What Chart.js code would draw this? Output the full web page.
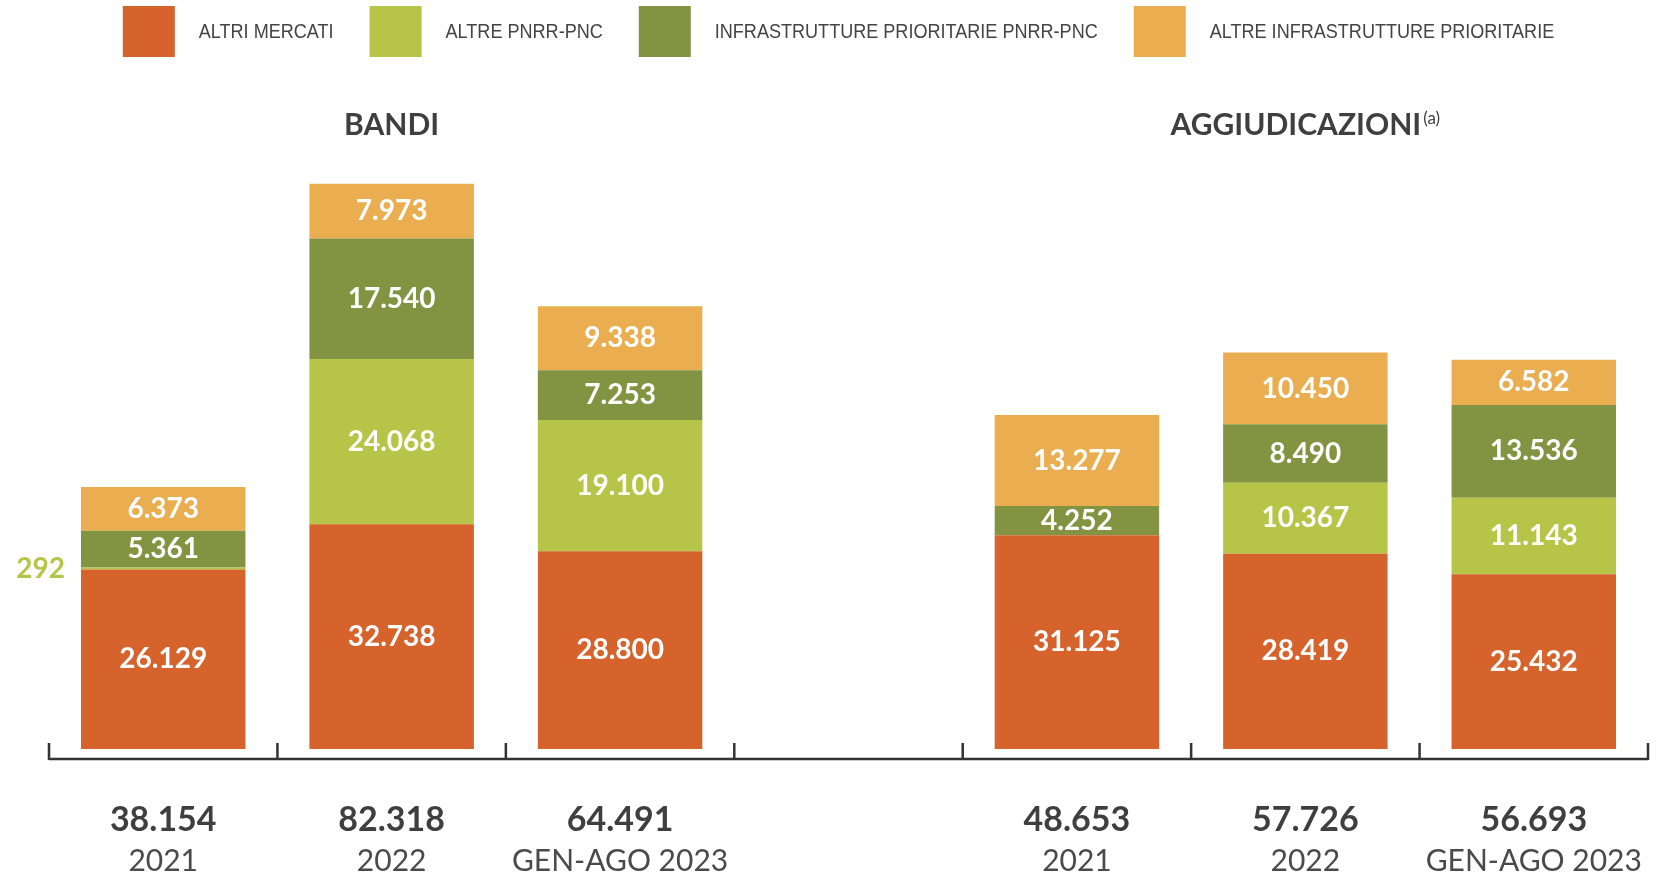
<!DOCTYPE html>
<html>
<head>
<meta charset="utf-8">
<script src="https://cdn.jsdelivr.net/npm/chart.js@4.4.1/dist/chart.umd.min.js"></script>
<style>
  html, body { margin: 0; padding: 0; background: #fff; }
  #wrap { width: 1659px; height: 877px; }
</style>
</head>
<body>
<div id="wrap"><canvas id="grafico"></canvas></div>
<script>
// dati (milioni di euro)
const categorie = ['2021', '2022', 'GEN-AGO 2023', '', '2021', '2022', 'GEN-AGO 2023'];
const totali = ['38.154', '82.318', '64.491', '', '48.653', '57.726', '56.693'];
const altriMercati = [26129, 32738, 28800, null, 31125, 28419, 25432];
const altrePnrr = [292, 24068, 19100, null, null, 10367, 11143];
const infraPnrr = [5361, 17540, 7253, null, 4252, 8490, 13536];
const altreInfra = [6373, 7973, 9338, null, 13277, 10450, 6582];
const titoliSezione = ['BANDI', 'AGGIUDICAZIONI'];
const noteSezione = ['', '(a)'];
const posSezione = [1, 5];

const fmt = v => String(v).replace(/\B(?=(\d{3})+(?!\d))/g, '.');

const extras = {
    id: 'extras',
    afterDatasetsDraw(chart) {
        const ctx = chart.ctx;
        const area = chart.chartArea;
        const x = chart.scales.x;
        const y0 = chart.scales.y.getPixelForValue(0);
        ctx.save();

        // etichette dei valori
        chart.data.datasets.forEach((ds, i) => {
            chart.getDatasetMeta(i).data.forEach((bar, j) => {
                const v = ds.data[j];
                if (!v) return;
                const h = bar.base - bar.y;
                ctx.font = 'bold 28px Lato';
                ctx.textBaseline = 'middle';
                if (h < 20) {
                    ctx.fillStyle = ds.backgroundColor;
                    ctx.textAlign = 'right';
                    ctx.fillText(fmt(v), bar.x - bar.width / 2 - 16, (bar.y + bar.base) / 2);
                } else {
                    ctx.fillStyle = '#fff';
                    ctx.textAlign = 'center';
                    ctx.fillText(fmt(v), bar.x, (bar.y + bar.base) / 2);
                }
            });
        });

        // asse con tacche
        const step = x.getPixelForValue(1) - x.getPixelForValue(0);
        const yAsse = y0 + 10;
        ctx.strokeStyle = '#333';
        ctx.lineWidth = 2.5;
        ctx.beginPath();
        ctx.moveTo(area.left, yAsse);
        ctx.lineTo(area.right, yAsse);
        for (let i = 0; i <= categorie.length; i++) {
            const px = x.getPixelForValue(0) - step / 2 + i * step;
            ctx.moveTo(px, yAsse + 1);
            ctx.lineTo(px, yAsse - 16);
        }
        ctx.stroke();

        // totali
        ctx.font = 'bold 34px Lato';
        ctx.fillStyle = '#3f3f3f';
        ctx.textAlign = 'center';
        ctx.textBaseline = 'middle';
        totali.forEach((t, i) => {
            if (t) ctx.fillText(t, x.getPixelForValue(i), y0 + 71);
        });

        // titoli sezioni
        titoliSezione.forEach((t, i) => {
            ctx.font = 'bold 30px Lato';
            const w1 = ctx.measureText(t).width;
            ctx.font = '17px Lato';
            const w2 = noteSezione[i] ? ctx.measureText(noteSezione[i]).width + 2 : 0;
            const cx = x.getPixelForValue(posSezione[i]);
            const sx = cx - (w1 + w2) / 2;
            ctx.fillStyle = '#3f3f3f';
            ctx.textAlign = 'left';
            ctx.textBaseline = 'middle';
            ctx.font = 'bold 30px Lato';
            ctx.fillText(t, sx, 125);
            if (noteSezione[i]) {
                ctx.font = '17px Lato';
                ctx.fillText(noteSezione[i], sx + w1 + 2, 119);
            }
        });

        // legenda (testo stretto: Liberation Sans compresso)
        const sq = 0.86;
        ctx.font = '21px "Liberation Sans"';
        const items = chart.data.datasets.map(ds => ({
            t: ds.label, c: ds.backgroundColor, w: ctx.measureText(ds.label).width * sq
        }));
        const box = 52, gapTxt = 24, gapItem = 36;
        const tot = items.reduce((s, it) => s + box + gapTxt + it.w, 0) + gapItem * (items.length - 1);
        let lx = (chart.width - tot) / 2 + 9;
        items.forEach(it => {
            ctx.fillStyle = it.c;
            ctx.fillRect(lx, 6, box, 51);
            ctx.save();
            ctx.translate(lx + box + gapTxt, 32);
            ctx.scale(sq, 1);
            ctx.fillStyle = '#444';
            ctx.textAlign = 'left';
            ctx.textBaseline = 'middle';
            ctx.fillText(it.t, 0, 0);
            ctx.restore();
            lx += box + gapTxt + it.w + gapItem;
        });

        ctx.restore();
    }
};

Chart.defaults.font.family = 'Lato';

new Chart(document.getElementById('grafico'), {
    type: 'bar',
    data: {
        labels: categorie,
        datasets: [
            { label: 'ALTRI MERCATI', data: altriMercati, backgroundColor: '#d6622c' },
            { label: 'ALTRE PNRR-PNC', data: altrePnrr, backgroundColor: '#b6c547' },
            { label: 'INFRASTRUTTURE PRIORITARIE PNRR-PNC', data: infraPnrr, backgroundColor: '#829342' },
            { label: 'ALTRE INFRASTRUTTURE PRIORITARIE', data: altreInfra, backgroundColor: '#eaae50' }
        ]
    },
    options: {
        responsive: true,
        maintainAspectRatio: false,
        animation: false,
        layout: { padding: { top: 131, left: 49, right: 11, bottom: 0 } },
        datasets: { bar: { categoryPercentage: 1, barPercentage: 0.72 } },
        plugins: {
            legend: { display: false },
            tooltip: { enabled: false }
        },
        scales: {
            x: {
                stacked: true,
                grid: { display: false },
                border: { display: false },
                afterFit(scale) { scale.height = 47; },
                ticks: {
                    padding: 8,
                    color: '#4a4a4a',
                    autoSkip: false,
                    maxRotation: 0,
                    font: { family: 'Lato', size: 30, lineHeight: 1.05 }
                }
            },
            // lo zero sta sopra l'asse: spazio sotto per totali e anni
            y: { stacked: true, display: false, min: -11800, max: 90000 }
        }
    },
    plugins: [extras]
});
</script>
</body>
</html>
